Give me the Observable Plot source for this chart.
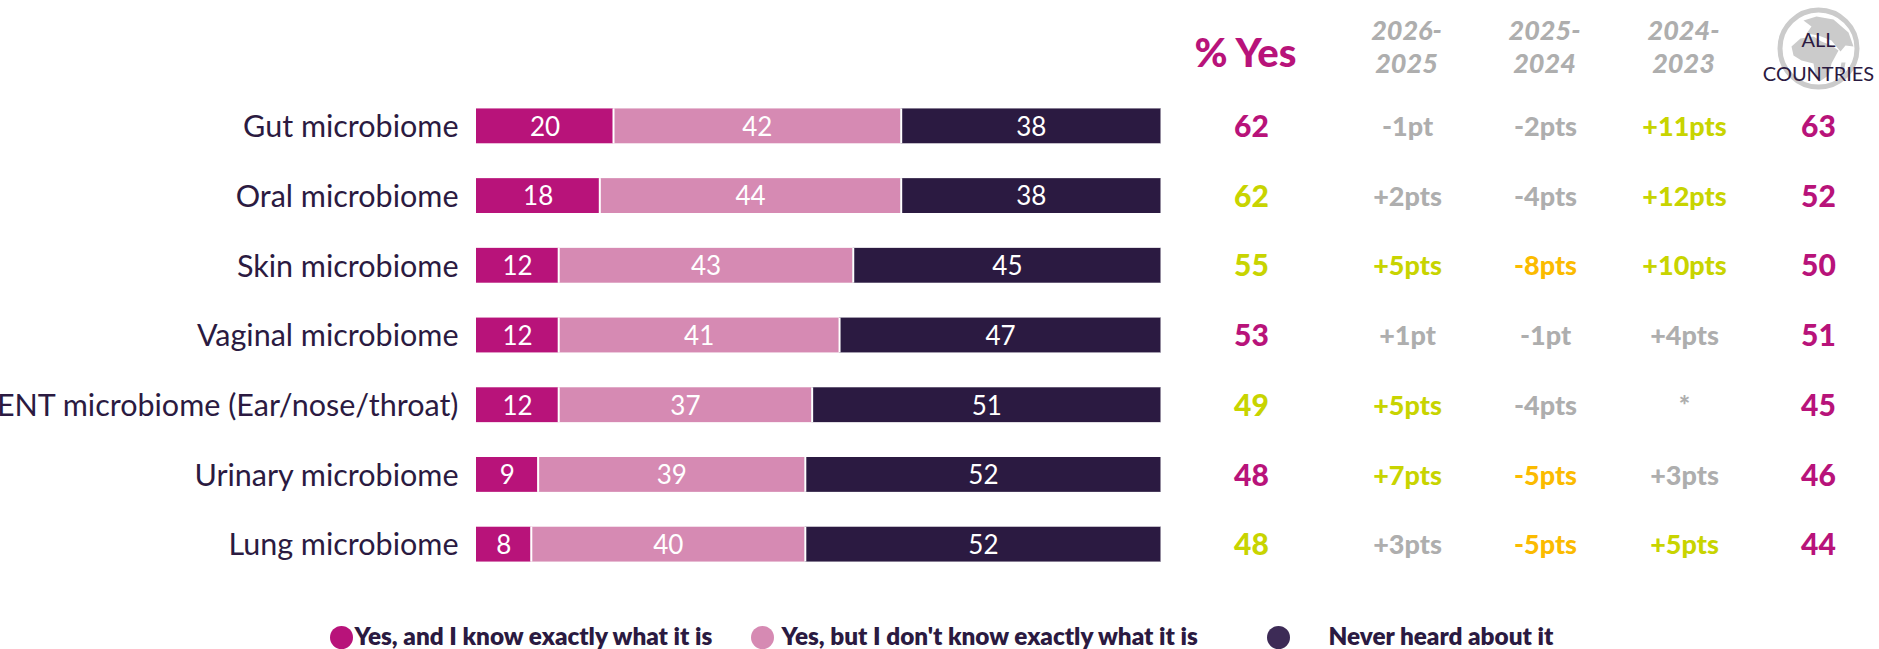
<!DOCTYPE html>
<html><head><meta charset="utf-8">
<style>html,body{margin:0;padding:0;background:#fff;overflow:hidden}svg{display:block}</style>
<script src="https://cdn.jsdelivr.net/npm/d3@7"></script>
<script src="https://cdn.jsdelivr.net/npm/@observablehq/plot@0.6"></script>
</head><body><div id="c"></div>
<script>
const categories = ["Gut microbiome","Oral microbiome","Skin microbiome","Vaginal microbiome","ENT microbiome (Ear/nose/throat)","Urinary microbiome","Lung microbiome"];
const seriesNames = ["Yes, and I know exactly what it is","Yes, but I don't know exactly what it is","Never heard about it"];
const exact = [20,18,12,12,12,9,8];
const notExact = [42,44,43,41,37,39,40];
const never = [38,38,45,47,51,52,52];
const pctYes = [62,62,55,53,49,48,48];
const pctYesStatus = ["base","up","up","base","up","base","up"];
const d2026 = ["-1pt","+2pts","+5pts","+1pt","+5pts","+7pts","+3pts"];
const d2025 = ["-2pts","-4pts","-8pts","-1pt","-4pts","-5pts","-5pts"];
const d2024 = ["+11pts","+12pts","+10pts","+4pts","*","+3pts","+5pts"];
const allCountries = [63,52,50,51,45,46,44];
const headers = ["2026-\n2025","2025-\n2024","2024-\n2023"];

const C = {magenta:"#b8137a",pink:"#d68ab3",dark:"#2b1a41",lime:"#c8d400",gold:"#fbbb00",gray:"#aeaeae",globe:"#cbcbcb"};
const F = "Lato, 'Noto Sans', sans-serif";
const rows = seriesNames.flatMap((s,i)=>categories.map((c,j)=>({cat:c,series:s,value:[exact,notExact,never][i][j]})));
const trend = t => { const n = parseInt(t); return n>=5 ? C.lime : n<=-5 ? C.gold : C.gray; };
const col = (arr,dx,fill,extra={}) => Plot.text(categories.map((c,i)=>({cat:c,v:arr[i],i})),{
  x:()=>100,y:"cat",text:"v",dx,dy:1,fill,fontFamily:F,fontWeight:900,fontSize:27,...extra});
const head = (label,dx,dy,extra) => Plot.text([label],{frameAnchor:"top-left",text:d=>d,dx,dy,lineAnchor:"middle",textAnchor:"middle",...extra});

// decorative globe outlines, as canvas-style symbols centred on the circle
const blob = pts => ({draw(ctx){ pts.forEach((p,i)=> i ? ctx.lineTo(p[0],p[1]) : ctx.moveTo(p[0],p[1])); ctx.closePath(); }});
const africa = blob([[-27,-2],[-18,-10],[-5,-12],[3,-7],[13,-3],[20,2],[13,15],[10,27],[1,33],[-3,27],[-5,15],[-17,12],[-25,7]]);
const eurasia = blob([[-15,-28],[-2,-32],[15,-29],[30,-16],[35,-2],[27,-3],[22,3],[13,-8],[0,-13],[-12,-15],[-7,-22]]);
const madagascar = blob([[23,14],[27,14],[25,24],[21,24]]);

const chart = Plot.plot({
  width:1879,height:649,margin:0,
  style:{background:"#fff",overflow:"hidden"},
  x:{type:"linear",domain:[0,100],range:[476,1161],axis:null},
  y:{type:"band",domain:categories,range:[91,579],paddingInner:0.5,paddingOuter:0.25,align:0.5,round:false,axis:null},
  color:{domain:seriesNames,range:[C.magenta,C.pink,C.dark]},
  marks:[
    Plot.barX(rows,Plot.stackX({x:"value",y:"cat",fill:"series",order:null})),
    Plot.tickX(rows,Plot.stackX2({x:"value",y:"cat",order:null,stroke:"#fff",strokeWidth:2})),
    Plot.text(rows,Plot.stackX({x:"value",y:"cat",text:"value",order:null,fill:"#fff",fontFamily:F,fontSize:26,dy:1})),
    Plot.text(categories,{x:()=>0,y:d=>d,text:d=>d,textAnchor:"end",dx:-18,fill:C.dark,fontFamily:F,fontSize:30.5,dy:1}),
    col(pctYes,90,d=>pctYesStatus[d.i]==="up"?C.lime:C.magenta,{fontSize:30}),
    col(d2026,246,d=>trend(d.v)),
    col(d2025,384,d=>trend(d.v)),
    col(d2024,523,d=>trend(d.v)),
    col(allCountries,657,C.magenta,{fontSize:30}),
    head("% Yes",1245,54,{fill:C.magenta,fontFamily:F,fontWeight:900,fontSize:40}),
    ...headers.map((h,i)=>head(h,[1406,1544,1683][i],45,{fill:C.gray,fontFamily:F,fontWeight:900,fontStyle:"italic",fontSize:27,lineHeight:1.22})),
    Plot.dot([0],{frameAnchor:"top-left",dx:1818,dy:48,r:38.5,fill:"#fff",stroke:C.globe,strokeWidth:5}),
    ...[africa,eurasia,madagascar].map(s=>Plot.dot([0],{frameAnchor:"top-left",dx:1818,dy:48,r:1,symbol:s,fill:C.globe,stroke:"none"})),
    head("ALL\nCOUNTRIES",1818,53,{fill:C.dark,fontFamily:F,fontSize:20,lineHeight:1.7}),
    ...seriesNames.map((s,i)=>Plot.dot([s],{frameAnchor:"top-left",dx:[341,762,1278][i],dy:637,r:11.5,fill:[C.magenta,C.pink,"#3d2b56"][i]})),
    ...seriesNames.map((s,i)=>head(s,[354,781,1328][i],637,{textAnchor:"start",fill:C.dark,fontFamily:F,fontWeight:800,fontSize:24.3})),
  ]
});
document.getElementById("c").append(chart);
</script></body></html>
